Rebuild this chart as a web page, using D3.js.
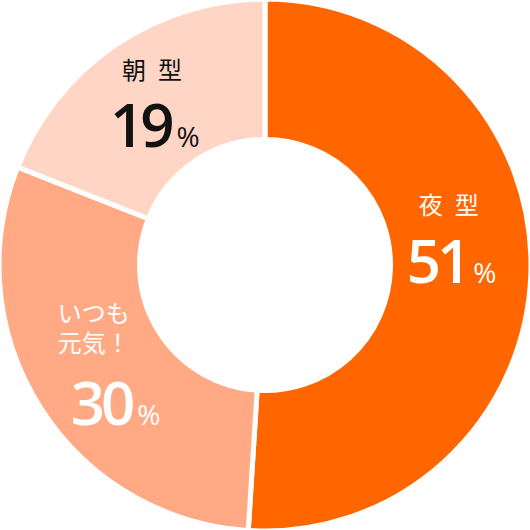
<!DOCTYPE html>
<html>
<head>
<meta charset="utf-8">
<script src="https://cdn.jsdelivr.net/npm/d3@7"></script>
<style>
  html, body { margin: 0; padding: 0; background: #fff; }
  svg { display: block; }
</style>
</head>
<body>
<svg id="chart" width="530" height="530"></svg>
<script>
// slices, clockwise from 12 o'clock
var categories = ['夜型', 'いつも元気！', '朝型'];
var labelLines = [['夜型'], ['いつも', '元気！'], ['朝型']];
var values = [51, 30, 19];
var colors = ['#ff6600', '#ffaa85', '#ffd5c6'];
var textColors = ['#ffffff', '#ffffff', '#111111'];

var width = 530,
  height = 530,
  cx = 265,
  cy = 265,
  outer = 266,
  inner = 125.5;

// label placement relative to each slice centroid
var layout = [
  { anchor: 'middle', tx: -12, ty: -57, spacing: 12, lh: 30, nx: -54, ny: 12 },
  { anchor: 'start', tx: -42, ty: -48, spacing: 0, lh: 30, nx: -29, ny: 55 },
  { anchor: 'middle', tx: -3, ty: -24, spacing: 12, lh: 30, nx: -45, ny: 44 }
];

var svg = d3.select('#chart');
var g = svg.append('g').attr('transform', 'translate(' + cx + ',' + cy + ')');

var pie = d3.pie().sort(null).value(function(d) { return d; });
var arc = d3.arc().innerRadius(inner).outerRadius(outer);
var arcs = pie(values);

g.selectAll('path.slice')
  .data(arcs)
  .enter().append('path')
  .attr('class', 'slice')
  .attr('d', arc)
  .attr('fill', function(d, i) { return colors[i]; })
  .attr('stroke', '#fff')
  .attr('stroke-width', 5);

var label = g.selectAll('g.label')
  .data(arcs)
  .enter().append('g')
  .attr('class', 'label')
  .attr('transform', function(d) {
    var c = arc.centroid(d);
    return 'translate(' + c[0] + ',' + c[1] + ')';
  })
  .attr('fill', function(d, i) { return textColors[i]; });

label.each(function(d, i) {
  var gg = d3.select(this),
    L = layout[i],
    x = L.anchor == 'middle' ? L.tx + L.spacing / 2 : L.tx;

  // category name, one tspan per line
  var name = gg.append('text')
    .attr('text-anchor', L.anchor)
    .style('font-family', '"Noto Sans CJK JP", sans-serif')
    .style('font-size', '24px')
    .style('font-weight', 400)
    .style('letter-spacing', L.spacing + 'px');
  labelLines[i].forEach(function(line, j) {
    name.append('tspan')
      .attr('x', x)
      .attr('y', L.ty + j * L.lh)
      .text(line);
  });

  var num = gg.append('text')
    .attr('x', L.nx)
    .attr('y', L.ny)
    .style('font-family', '"Open Sans", sans-serif')
    .style('font-weight', 600);
  num.append('tspan')
    .style('font-size', '60px')
    .style('letter-spacing', '-4px')
    .text(values[i]);
  num.append('tspan')
    .attr('dx', 6)
    .style('font-size', '28px')
    .style('font-weight', 400)
    .text('%');
});
</script>
</body>
</html>
